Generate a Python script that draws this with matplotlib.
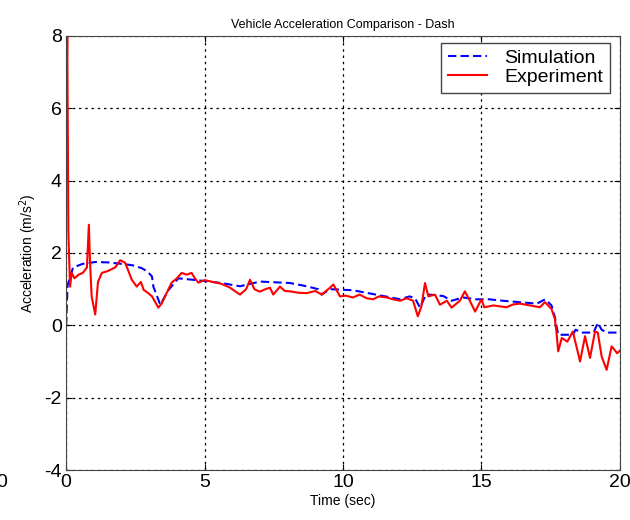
import matplotlib
matplotlib.use('Agg')
from matplotlib import pyplot as plt

plt.rcParams['font.family'] = ['Liberation Sans', 'DejaVu Sans']
plt.rcParams['axes.unicode_minus'] = False

# experiment (measured) acceleration
exp_t = [0.0, 0.04, 0.08, 0.14, 0.2, 0.3, 0.45, 0.6, 0.75, 0.82, 0.86, 0.92, 1.05, 1.15, 1.29, 1.5,
         1.77, 1.95, 2.13, 2.25, 2.37, 2.55, 2.7, 2.8, 2.95, 3.1, 3.33, 3.45, 3.57, 3.81, 4.0, 4.17,
         4.35, 4.53, 4.65, 4.77, 5.0, 5.3, 5.6, 5.9, 6.28, 6.5, 6.64, 6.8, 6.99, 7.2, 7.36, 7.48,
         7.72, 7.9, 8.08, 8.4, 8.69, 9.0, 9.23, 9.53, 9.65, 9.89, 10.1, 10.36, 10.6, 10.85, 11.08,
         11.3, 11.58, 11.8, 12.06, 12.3, 12.53, 12.7, 12.83, 12.96, 13.08, 13.32, 13.5, 13.75, 13.92,
         14.22, 14.4, 14.58, 14.77, 15.0, 15.1, 15.43, 15.9, 16.15, 16.39, 16.75, 17.11, 17.29,
         17.53, 17.65, 17.71, 17.77, 17.9, 18.1, 18.3, 18.56, 18.74, 18.92, 19.1, 19.2, 19.34,
         19.52, 19.7, 19.9, 20.0]
exp_a = [5.3, 8.0, 2.6, 1.07, 1.45, 1.3, 1.4, 1.45, 1.6, 2.78, 1.8, 0.8, 0.3, 1.2, 1.45, 1.5,
         1.6, 1.8, 1.73, 1.5, 1.26, 1.07, 1.2, 0.98, 0.9, 0.8, 0.49, 0.6, 0.8, 1.18, 1.3, 1.45,
         1.4, 1.45, 1.3, 1.18, 1.25, 1.2, 1.15, 1.05, 0.85, 1.0, 1.26, 1.0, 0.93, 1.0, 1.04, 0.85,
         1.07, 0.95, 0.94, 0.9, 0.89, 0.95, 0.85, 1.04, 1.13, 0.8, 0.82, 0.77, 0.85, 0.75, 0.72,
         0.8, 0.77, 0.72, 0.68, 0.75, 0.68, 0.25, 0.52, 1.17, 0.8, 0.85, 0.57, 0.68, 0.49,
         0.68, 0.94, 0.68, 0.38, 0.72, 0.5, 0.55, 0.5, 0.58, 0.6, 0.55, 0.5, 0.64,
         0.45, 0.18, -0.2, -0.72, -0.35, -0.45, -0.17, -1.0, -0.3, -0.9, -0.17, -0.2, -0.86,
         -1.23, -0.58, -0.77, -0.7]

# simulation acceleration
sim_t = [0.0, 0.05, 0.25, 0.6, 1.05, 1.5, 2.0, 2.4, 2.73, 2.95, 3.1, 3.15, 3.4, 3.7, 4.05,
         4.7, 5.6, 6.28, 7.0, 8.08, 8.69, 9.1, 9.23, 9.53, 10.36, 10.84, 11.46, 12.06, 12.4, 12.6,
         12.78, 13.0, 13.62, 13.92, 14.34, 14.8, 15.28, 15.77, 16.39, 17.0, 17.3, 17.53, 17.65,
         17.77, 18.3, 18.4, 18.6, 19.05, 19.2, 19.34, 19.52, 20.0]
sim_a = [0.0, 1.1, 1.6, 1.7, 1.75, 1.74, 1.7, 1.66, 1.58, 1.48, 1.35, 1.07, 0.57, 0.98, 1.3,
         1.25, 1.17, 1.08, 1.21, 1.17, 1.08, 1.0, 0.85, 1.0, 0.97, 0.9, 0.81, 0.72, 0.8, 0.75,
         0.49, 0.86, 0.81, 0.68, 0.77, 0.72, 0.72, 0.68, 0.64, 0.6, 0.72, 0.55, 0.23,
         -0.26, -0.26, -0.12, -0.2, -0.2, 0.07, -0.12, -0.2, -0.2]

x_ticks = [0, 5, 10, 15, 20]
y_ticks = [-4, -2, 0, 2, 4, 6, 8]

fig = plt.figure(figsize=(6.3, 5.2), dpi=100)
ax = fig.add_axes([0.105, 0.096, 0.879, 0.835])

ax.plot(sim_t, sim_a, color='blue', linestyle='--', linewidth=1.5, dashes=(4, 2), label='Simulation')
ax.plot(exp_t, exp_a, color='red', linewidth=1.5, label='Experiment')

ax.set_xlim(0, 20)
ax.set_ylim(-4, 8)
ax.set_xticks(x_ticks)
ax.set_yticks(y_ticks)
ax.tick_params(direction='in', labelsize=14, length=4, top=True, right=True, pad=3)
ax.grid(True, color='black', linestyle=(0, (2, 3)), linewidth=0.9)
for sp in ax.spines.values():
    sp.set_color('#444444')

ax.set_title('Vehicle Acceleration Comparison - Dash', fontsize=9, pad=6)
ax.set_xlabel('Time (sec)', fontsize=10, labelpad=2)
ax.set_ylabel('Acceleration (m/s$^2$)', fontsize=10, labelpad=4)

leg = ax.legend(loc='upper right', fontsize=14, fancybox=False, framealpha=1,
                edgecolor='#444444', handlelength=2.0, handletextpad=0.9, borderpad=0.35,
                labelspacing=0.05, borderaxespad=0, bbox_to_anchor=(0.982, 0.984))
leg.get_frame().set_linewidth(1.0)

# stray label cut off at the left edge
fig.text(0.003, 0.072, '0', fontsize=14, ha='center', va='center')

fig.savefig('out.png', dpi=100)
